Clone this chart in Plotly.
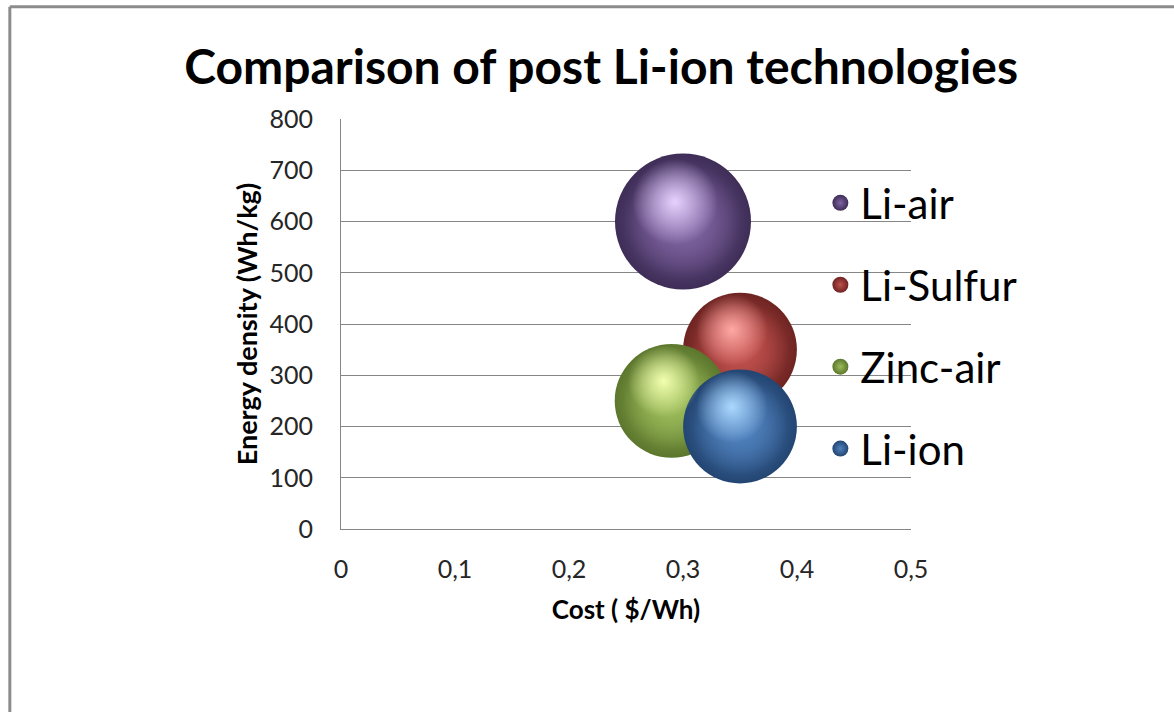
import plotly.graph_objects as go

# Battery technologies: cost vs. energy density, bubble size = relative weight
technologies = ["Li-air", "Li-Sulfur", "Zinc-air", "Li-ion"]
cost = [0.30, 0.35, 0.29, 0.35]            # $/Wh
energy_density = [600, 350, 250, 200]      # Wh/kg
bubble_size = [10, 7, 7, 7]

x_ticks = [0, 0.1, 0.2, 0.3, 0.4, 0.5]
y_ticks = [0, 100, 200, 300, 400, 500, 600, 700, 800]

# Office-style palette: (base, highlight, shadow)
palette = {
    "Li-air": ("#8064A2", "#E6D2FF", "#3E2D57"),
    "Li-Sulfur": ("#C0504D", "#FFA8A5", "#6E2422"),
    "Zinc-air": ("#9BBB59", "#F2FFB0", "#5C772D"),
    "Li-ion": ("#4F81BD", "#ACD8FF", "#234572"),
}


def rgba(hex_color, alpha):
    h = hex_color.lstrip("#")
    r, g, b = (int(h[i:i + 2], 16) for i in (0, 2, 4))
    return f"rgba({r},{g},{b},{alpha})"


FONT = "Lato"
GRID = "#868686"
max_diam = 136
sizeref = 2.0 * max(bubble_size) / max_diam ** 2

fig = go.Figure()
for name, cx, cy, sz in zip(technologies, cost, energy_density, bubble_size):
    base, light, dark = palette[name]
    # body of the sphere: base colour fading to a dark rim
    fig.add_trace(go.Scatter(
        x=[cx], y=[cy], mode="markers", name=name, legendgroup=name,
        showlegend=False,
        marker=dict(size=[sz], sizemode="area", sizeref=sizeref, opacity=1,
                    color=dark, line=dict(width=0),
                    gradient=dict(type="radial", color=base)),
        hovertemplate=f"{name}<br>%{{x}} $/Wh<br>%{{y}} Wh/kg<extra></extra>",
    ))
    # flatten the inner part so the rim darkening stays near the edge
    fig.add_trace(go.Scatter(
        x=[cx], y=[cy], mode="markers", legendgroup=name, showlegend=False,
        marker=dict(size=[sz], sizemode="area", sizeref=sizeref / 0.72,
                    opacity=1, color=rgba(base, 0), line=dict(width=0),
                    gradient=dict(type="radial", color=base)),
        hoverinfo="skip",
    ))
    # specular highlight, nudged up-left on a slightly shifted overlay axis
    fig.add_trace(go.Scatter(
        x=[cx], y=[cy], mode="markers", legendgroup=name, showlegend=False,
        xaxis="x2", yaxis="y2",
        marker=dict(size=[sz], sizemode="area", sizeref=sizeref / 0.40,
                    opacity=1, color=rgba(light, 0), line=dict(width=0),
                    gradient=dict(type="radial", color=light)),
        hoverinfo="skip",
    ))

# legend entries: small spheres next to each technology name
for name in technologies:
    base, light, dark = palette[name]
    fig.add_trace(go.Scatter(
        x=[None], y=[None], mode="markers", name=name, legendgroup=name,
        marker=dict(size=16, color=dark, line=dict(width=0),
                    gradient=dict(type="radial", color=base)),
    ))

x_shift = 0.007
y_shift = 38

fig.update_layout(
    width=1174, height=712,
    margin=dict(l=341, r=263, t=119, b=183),
    paper_bgcolor="white", plot_bgcolor="white",
    separators=", ",
    font=dict(family=FONT, color="#262626"),
    title=dict(text="Comparison of post Li-ion technologies",
               font=dict(family=FONT, size=48, color="#000000", weight="bold"),
               x=0.512, xanchor="center", y=0.905, yanchor="middle"),
    xaxis=dict(range=[0, 0.5], tickvals=x_ticks, showgrid=False, zeroline=False,
               showline=True, linecolor=GRID, linewidth=1, ticks="",
               tickfont=dict(size=25, color="#262626"), ticklabelstandoff=18,
               title=dict(text="Cost ( $/Wh)", standoff=18,
                          font=dict(size=26, color="#000000", weight="bold"))),
    yaxis=dict(range=[0, 800], tickvals=y_ticks, showgrid=True, gridcolor=GRID,
               gridwidth=1, zeroline=False, showline=True, linecolor=GRID,
               linewidth=1, ticks="",
               tickfont=dict(size=25, color="#262626"), ticklabelstandoff=22,
               title=dict(text="Energy density (Wh/kg)", standoff=4,
                          font=dict(size=27, color="#000000", weight="bold"))),
    xaxis2=dict(overlaying="x", range=[x_shift, 0.5 + x_shift], visible=False),
    yaxis2=dict(overlaying="y", range=[-y_shift, 800 - y_shift], visible=False),
    legend=dict(x=0.841, xanchor="left", y=0.495, yanchor="middle",
                font=dict(family=FONT, size=42, color="#000000"),
                tracegroupgap=24.3, traceorder="grouped",
                bgcolor="rgba(0,0,0,0)", itemsizing="trace"),
    shapes=[
        # outer chart frame (top and left edges)
        dict(type="line", xref="paper", yref="paper", x0=-0.581, x1=1.47,
             y0=1.2735, y1=1.2735, line=dict(color="#8C8C8C", width=3)),
        dict(type="line", xref="paper", yref="paper", x0=-0.581, x1=-0.581,
             y0=1.2735, y1=-0.45, line=dict(color="#8C8C8C", width=3)),
    ],
)

fig.write_html("out.html")
